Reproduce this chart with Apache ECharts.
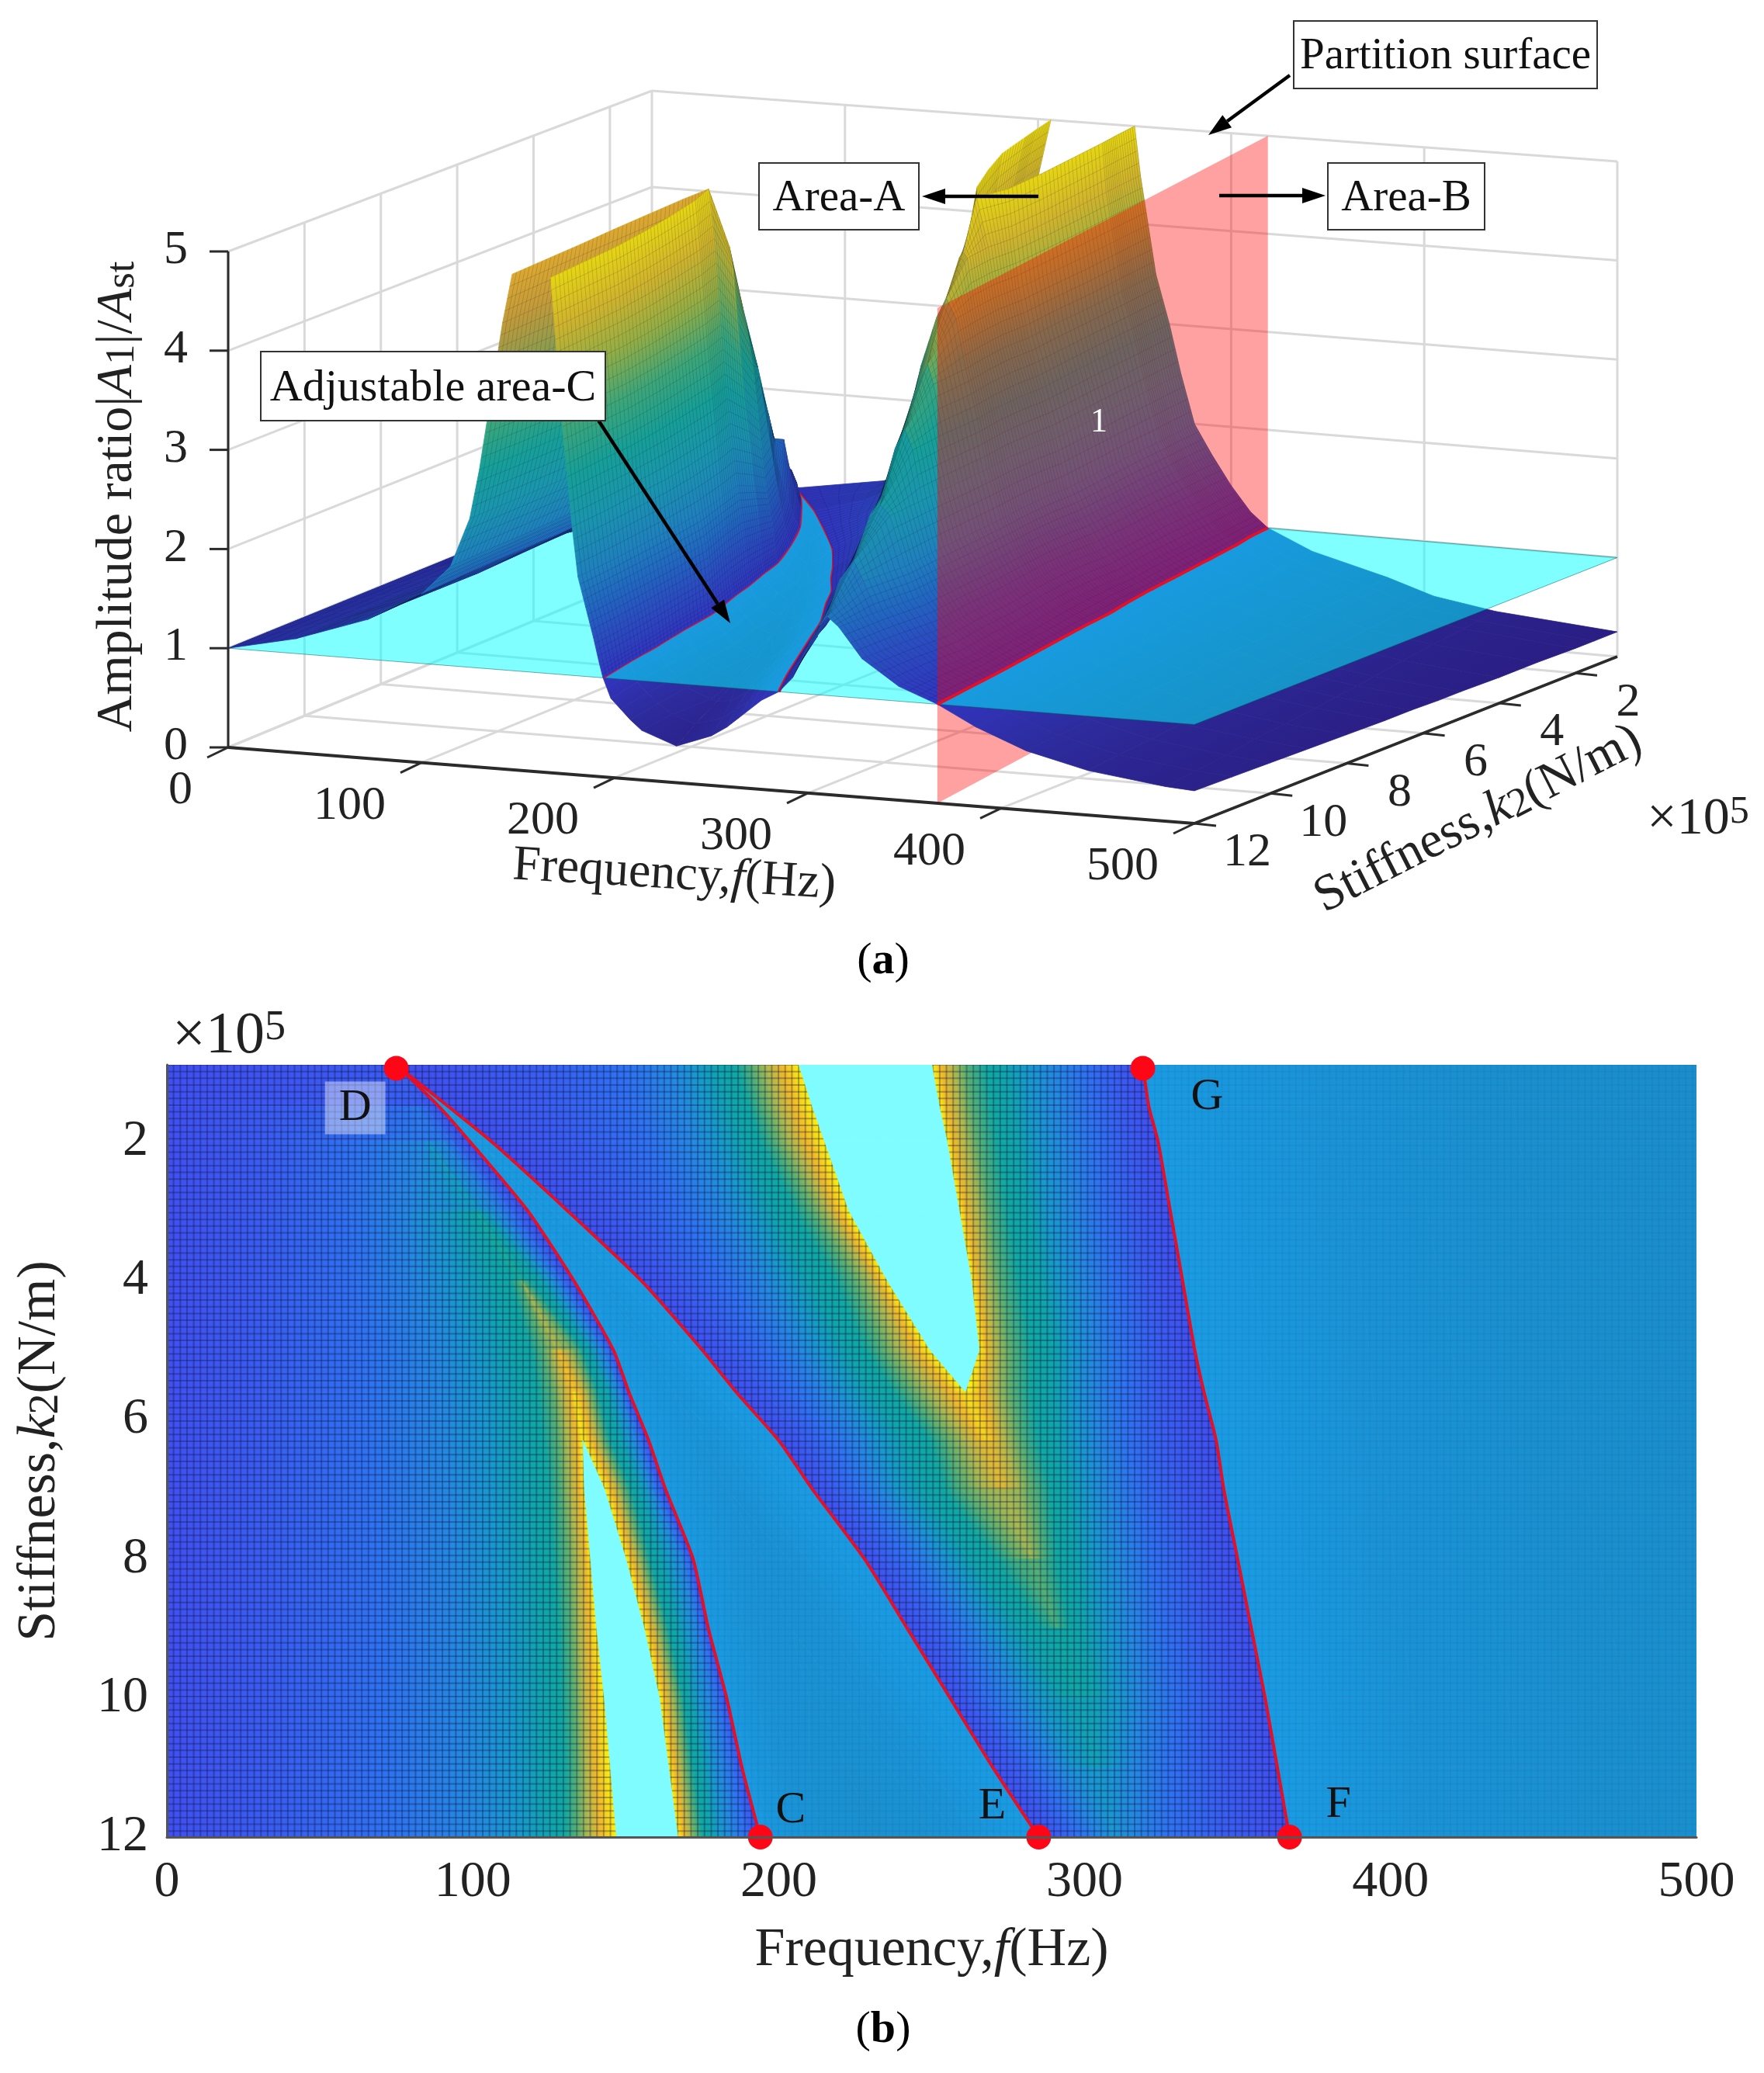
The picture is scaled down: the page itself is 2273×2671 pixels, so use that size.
<!DOCTYPE html>
<html>
<head>
<meta charset="utf-8">
<title>Amplitude ratio surface</title>
<script src="https://cdn.jsdelivr.net/npm/echarts@6/dist/echarts.min.js"></script>
<style>
  html, body { margin: 0; background: #fff; }
  #main { width: 2273px; height: 2671px; }
</style>
</head>
<body>
<div id="main"></div>
<script>
// stiffness rows (x10^5 N/m) the crossings below were read at
const k2Rows = [0.9, 1.5, 2, 3, 4, 5, 5.6, 6.3, 7, 8, 9, 10, 11, 12];

// peak height of the two ridges and bottom of the basin, per row
const ridgeOnePeak = [1.05, 1.3, 1.7, 2.6, 3.5, 4.4, 4.75, 5, 5, 5, 5, 5, 5, 5];
const ridgeOneSideScale = [1, 1, 1, .75, .72, .76, .88, 1, 1, 1, 1, 1, 1, 1];
const ridgeTwoPeak = [5, 5, 5, 5, 5, 5, 5, 4.55, 4.2, 3.7, 3.2, 2.6, 2.2, 1.8];
const basinMin = [1, .96, .93, .87, .82, .77, .73, .68, .64, .58, .53, .48, .42, .37];
const tailEnd = [.25, .25, .25, .26, .26, .27, .27, .28, .28, .29, .3, .31, .32, .33];

// frequency (Hz) where the surface crosses a level, one value per row
const riseLevels = [1.15, 1.4, 1.7, 2, 2.5, 3, 3.5, 4, 4.5, 5];
const fallLevels = [5, 4.5, 4, 3.5, 3, 2.5, 2, 1.7, 1.4, 1.15];
const ridgeOneRise = [
  [75, 40, 35, 32, 32, 32, 32, 32, 32, 33, 33, 34, 34, 35],
  [75, 80, 60, 60, 62, 65, 65, 65, 66, 68, 70, 70, 70, 72],
  [75, 80, 85, 78, 82, 88, 89, 90, 92, 94, 95, 96, 98, 100],
  [75, 80, 85, 88, 94, 100, 103, 105, 106, 108, 110, 112, 113, 115],
  [75, 80, 85, 99, 106, 112, 115, 117, 118, 120, 122, 123, 124, 125],
  [75, 80, 85, 101, 112, 119, 121, 123, 125, 126, 128, 129, 130, 130],
  [75, 80, 85, 101, 116, 123, 126, 128, 129, 131, 132, 133, 134, 134],
  [75, 80, 85, 101, 116, 126, 129, 131, 132, 134, 135, 136, 137, 138],
  [75, 80, 85, 101, 116, 128, 132, 134, 135, 137, 138, 139, 140, 142],
  [75, 80, 85, 101, 116, 128, 133, 136, 136.5, 138.5, 140.5, 143, 145, 147]
];
const ridgeOneFall = [
  [75, 80, 85, 101, 116, 128, 133, 136, 143, 150, 156, 161, 164, 167],
  [75, 80, 85, 101, 116, 128, 135, 139, 145.5, 152, 158, 163, 166, 169],
  [75, 80, 85, 101, 116, 131, 137, 141, 147.5, 154, 160, 165, 168, 171],
  [75, 80, 85, 101, 116, 134, 139, 143, 149.5, 156, 162, 167, 170, 173],
  [75, 80, 85, 101, 119, 136, 141, 145, 152, 158, 164, 169, 172, 175.5],
  [75, 80, 85, 102, 122, 138, 144, 148, 154.5, 161, 167, 171, 175, 178],
  [75, 80, 86, 105, 125, 140, 146, 151, 157, 165, 170, 174, 178, 181],
  [75, 81, 90, 108, 127, 142, 148, 153, 158.5, 168, 173, 177, 181, 185],
  [75, 84, 93, 112, 129, 144, 149, 155, 160, 170, 175, 180, 185, 189],
  [75, 87, 96, 115, 131, 145, 150, 156, 161.5, 171, 176, 182, 187, 192]
];
const ridgeTwoRise = [
  [120, 125, 132, 148, 168, 185, 196, 208, 218, 234, 250, 262, 277, 292],
  [150, 153, 157, 168, 183, 197, 206, 218, 226, 243, 258, 268, 285, 298],
  [165, 168, 172, 182, 195, 207, 216, 227, 233, 250, 265, 278, 291, 306],
  [172, 176, 180, 190, 202, 214, 222, 233, 238, 256, 271, 284, 297, 310],
  [180, 184, 188, 198, 210, 222, 230, 241, 247, 262, 279, 293, 304, 310],
  [186, 190, 194, 205, 218, 228, 237, 249, 254, 270, 286, 298, 304, 310],
  [191, 195, 199, 211, 225, 234, 243, 255, 260, 278, 291, 298, 304, 310],
  [196, 200, 204, 216, 230, 240, 250, 261, 268, 283, 291, 298, 304, 310],
  [201, 205, 209, 219, 233, 245, 256, 266, 273, 283, 291, 298, 304, 310],
  [206.6, 211, 215, 223, 235.5, 249.5, 261, 268, 273, 283, 291, 298, 304, 310]
];
const ridgeTwoFall = [
  [250, 252.5, 255, 259, 263, 265.5, 261, 268, 273, 283, 291, 298, 304, 310],
  [253, 255, 257, 261, 265, 268, 267, 270, 273, 283, 291, 298, 304, 310],
  [257, 259, 261, 265, 268, 271, 271, 274, 278, 283, 291, 298, 304, 310],
  [261, 263, 265, 269, 272, 276, 276, 279, 283, 286, 291, 298, 304, 310],
  [268, 270, 272, 275, 279, 283, 283, 285, 289, 291, 295, 298, 304, 310],
  [274, 276, 278, 282, 286, 290, 290, 291, 294, 297, 300, 303, 304, 310],
  [281, 283, 285, 288, 292, 296, 296, 298, 301, 304, 307, 311, 309, 310],
  [290, 291, 293, 296, 300, 303, 303, 305, 308, 312, 315, 318, 316, 316],
  [300, 302, 304, 306, 310, 313, 313, 314, 317, 322, 325, 330, 328, 328],
  [310, 312, 314, 317, 320, 325, 325, 327, 330, 336, 340, 345, 345, 347]
];

// the red curves, where the surface crosses 1
const curveCD = [75, 89, 99, 118, 133, 146, 151, 157.5, 163, 172, 177, 183, 188, 194];
const curveDE = [75, 92, 106, 131, 155, 175, 186, 200, 211, 228, 242, 256, 270, 285];
const curveGF = [319, 321, 324, 328, 332, 336, 339, 343, 345.5, 350, 354.5, 359, 363, 367];

// basin between CD and DE, levels below 1
const basinLevels = [.9, .8, .7, .6, .5, 0, .5, .6, .7, .8, .9];
const basinEdges = [
  [75, 90, 102, 120.7, 135.8, 148.3, 153, 159, 165, 174, 179, 185, 190, 196],
  [75, 90, 102, 123.4, 142, 155, 158, 164, 169, 178, 182, 187, 192, 198],
  [75, 90, 102, 123.4, 142, 158, 165.6, 172, 175, 183, 187, 193, 197, 203],
  [75, 90, 102, 123.4, 142, 158, 165.6, 175, 183, 192, 194, 198, 203, 208],
  [75, 90, 102, 123.4, 142, 158, 165.6, 175, 183, 195, 204, 210, 210, 214],
  [75, 90, 102, 123.4, 142, 158, 165.6, 175, 183, 195, 204, 213.5, 222, 232],
  [75, 90, 102, 123.4, 142, 158, 165.6, 175, 183, 195, 204, 221, 236, 250],
  [75, 90, 102, 123.4, 142, 158, 165.6, 175, 183, 203, 216, 229, 243, 258],
  [75, 90, 102, 123.4, 142, 158, 165.6, 181, 192, 209, 222, 236, 250, 264],
  [75, 90, 102, 123.4, 142, 162, 173.6, 187, 198, 215, 228, 242, 255, 270],
  [75, 90, 102, 126, 149.2, 168, 179, 193, 204, 221, 234, 248, 262, 276]
];
// falling tail to the right of GF
const tailLevels = [.8, .6, .45, .35];
const tailEdges = [
  [342, 344, 347, 351, 355, 359, 362, 365, 368, 372, 376, 380, 383, 387],
  [381, 383, 384, 387, 390, 393, 394, 396, 399, 401, 404, 407, 410, 413],
  [405, 407, 409, 412, 416, 420, 422, 425, 427, 431, 434, 438, 441, 445],
  [437, 440, 442, 446, 450, 455, 458, 461, 464, 468, 472, 477, 481, 485]
];

const freqTicks = [0, 100, 200, 300, 400, 500];
const stiffTicks = [2, 4, 6, 8, 10, 12];
const ampTicks = [0, 1, 2, 3, 4, 5];
const markerNames = ["D", "G", "C", "E", "F"];
const markerFreq = [75, 319, 194, 285, 367];
const markerStiff = [0.95, 0.95, 12, 12, 12];

// colours
const rampLevels = [.2, .6, 1, 1.4, 1.7, 2, 2.5, 3, 3.5, 4, 4.5, 5];
const rampSurface = ["#2a1c80", "#2d2c9e", "#3135bf", "#2a4fc0", "#2168c0", "#1f80bd", "#1a95ae", "#169f98", "#3ea678", "#93ad45", "#cfb32d", "#e6d514"];
const rampBack = ["#2a1c80", "#2d2c9e", "#2a2ea6", "#2645b0", "#2168c0", "#1f80bd", "#1a95ae", "#169f98", "#3ea678", "#8a9c50", "#c09a3a", "#dca830"];
const rampTop = ["#4050ee", "#4050ee", "#4050ee", "#2e72f0", "#2488e0", "#1898cc", "#10a4ac", "#10a8a0", "#58b070", "#b0b84c", "#f0b828", "#fbf010"];
const rampUnder = ["#1a8ecb", "#1a93d5", "#1a9be2"];
const serif = "Liberation Serif";

function hex(c) { return [1, 3, 5].map(i => parseInt(c.substr(i, 2), 16)); }
function ramp(levels, colors, v) {
  if (v <= levels[0]) return colors[0];
  for (let i = 1; i < levels.length; i++) {
    if (v <= levels[i]) {
      const t = (v - levels[i - 1]) / (levels[i] - levels[i - 1]);
      const a = hex(colors[i - 1]), b = hex(colors[i]);
      return "rgb(" + a.map((x, j) => Math.round(x + (b[j] - x) * t)).join(",") + ")";
    }
  }
  return colors[colors.length - 1];
}
const colorSurface = (v, back) => ramp(rampLevels, back ? rampBack : rampSurface, v);
const colorTop = (v, under) => under ? ramp([.25, .6, 1], rampUnder, v) : ramp(rampLevels, rampTop, v);

// edges left to right across the surface
const edges = [];
function addEdge(freq, value, height) { edges.push({ freq, value, height: height || value }); }
const ridgeOneHeight = lv => r => 1 + (Math.min(lv, ridgeOnePeak[r]) - 1) * ridgeOneSideScale[r];
addEdge(k2Rows.map(() => 0), () => 1);
ridgeOneRise.forEach((f, i) => addEdge(f, r => Math.min(riseLevels[i], ridgeOnePeak[r]), ridgeOneHeight(riseLevels[i])));
const holeOne = edges.length - 1;
ridgeOneFall.forEach((f, i) => addEdge(f, r => Math.min(fallLevels[i], ridgeOnePeak[r]), ridgeOneHeight(fallLevels[i])));
addEdge(curveCD, () => 1);
basinEdges.forEach((f, i) => addEdge(f, r => Math.max(basinLevels[i], basinMin[r])));
addEdge(curveDE, () => 1);
ridgeTwoRise.forEach((f, i) => addEdge(f, r => Math.min(riseLevels[i], ridgeTwoPeak[r])));
const holeTwo = edges.length - 1;
ridgeTwoFall.forEach((f, i) => addEdge(f, r => Math.min(fallLevels[i], ridgeTwoPeak[r])));
const cutGF = edges.length;
addEdge(curveGF, () => 1);
tailEdges.forEach((f, i) => addEdge(f, () => tailLevels[i]));
addEdge(k2Rows.map(() => 500), r => tailEnd[r]);

// 3d view of panel (a): floor corners on the page and height scale
const floorA = [294, 963], floorB = [1539, 1061], floorC = [2084, 846], floorD = [840, 737];
function bilinear(a, b, c, d, s, t) { return (1 - s) * (1 - t) * d + s * (1 - t) * c + (1 - s) * t * a + s * t * b; }
function floorY(f, k) { return bilinear(floorA[1], floorB[1], floorC[1], floorD[1], f / 500, (k - .9) / 11.1); }
function project(f, k, z) {
  const s = f / 500, t = (k - .9) / 11.1;
  return [
    bilinear(floorA[0], floorB[0], floorC[0], floorD[0], s, t),
    floorY(f, k) - z * bilinear(127.8, 127.5, 127.6, 124, s, t)
  ];
}

function gradientFill(p00, p01, p10, p11, c0, c1) {
  const ex = (p01[0] - p00[0]) + (p11[0] - p10[0]), ey = (p01[1] - p00[1]) + (p11[1] - p10[1]);
  const len = Math.hypot(ex, ey) || 1;
  const nx = -ey / len, ny = ex / len;
  const m0 = [(p00[0] + p01[0]) / 2, (p00[1] + p01[1]) / 2];
  const m1 = [(p10[0] + p11[0]) / 2, (p10[1] + p11[1]) / 2];
  const d = (m1[0] - m0[0]) * nx + (m1[1] - m0[1]) * ny;
  if (Math.abs(d) < 0.5) return c0;
  return new echarts.graphic.LinearGradient(m0[0], m0[1], m0[0] + nx * d, m0[1] + ny * d, [
    { offset: 0, color: c0 }, { offset: 1, color: c1 }
  ], true);
}
function mix(a, b, t) { return [a[0] + (b[0] - a[0]) * t, a[1] + (b[1] - a[1]) * t]; }

// quads of the surface, each is edge i / row r
const quads = [];
for (let i = 0; i < edges.length - 1; i++) {
  for (let r = 0; r < k2Rows.length - 1; r++) {
    const L = edges[i], R = edges[i + 1];
    if (Math.abs(L.freq[r] - R.freq[r]) + Math.abs(L.freq[r + 1] - R.freq[r + 1]) < 0.01) continue;
    const vs = [L.value(r), L.value(r + 1), R.value(r), R.value(r + 1)];
    const zs = [L.height(r), L.height(r + 1), R.height(r), R.height(r + 1)];
    quads.push({
      i, r, vs, zs,
      hole: i === holeOne || i === holeTwo,
      under: Math.max.apply(null, vs) <= 1,
      back: i < holeOne,
      depth: floorY((L.freq[r] + R.freq[r + 1]) / 2, (k2Rows[r] + k2Rows[r + 1]) / 2)
    });
  }
}
const quadPts = (q, vals) => {
  const L = edges[q.i].freq, R = edges[q.i + 1].freq, r = q.r;
  return [[L[r], k2Rows[r], vals[0]], [L[r + 1], k2Rows[r + 1], vals[1]], [R[r], k2Rows[r], vals[2]], [R[r + 1], k2Rows[r + 1], vals[3]]];
};

// scene of panel (a), painted back to front
const scene = [];
const ribStroke = "rgba(10,10,30,0.15)";
function toPage(api, p) { return api.coord(p); }
function surfaceQuad(q, ribs) {
  return api => {
    const [a, b, c, d] = quadPts(q, q.zs).map(p => toPage(api, project(p[0], p[1], p[2])));
    const fill = gradientFill(a, b, c, d, colorSurface((q.zs[0] + q.zs[1]) / 2, q.back), colorSurface((q.zs[2] + q.zs[3]) / 2, q.back));
    const children = [{ type: "polygon", shape: { points: [a, b, d, c] }, style: { fill, stroke: fill, lineWidth: 0.8 } }];
    if (ribs) {
      [0, .25, .5, .75].forEach(t => children.push({
        type: "polyline", shape: { points: [mix(a, c, t), mix(b, d, t)] },
        style: { stroke: ribStroke, lineWidth: 1, fill: null }
      }));
      [0, .125, .25, .375, .5, .625, .75, .875].forEach(t => children.push({
        type: "polyline", shape: { points: [mix(a, b, t), mix(c, d, t)] },
        style: { stroke: ribStroke, lineWidth: 1, fill: null }
      }));
    }
    return { type: "group", children };
  };
}
function wallLine(p0, p1) {
  scene.push(api => {
    const a = toPage(api, project.apply(null, p0)), b = toPage(api, project.apply(null, p1));
    return { type: "line", shape: { x1: a[0], y1: a[1], x2: b[0], y2: b[1] }, style: { stroke: "#d9d9d9", lineWidth: 3 } };
  });
}
function poly3d(points, style) {
  scene.push(api => ({ type: "polygon", shape: { points: points.map(p => toPage(api, project.apply(null, p))) }, style }));
}
function curve3d(freq, style) {
  scene.push(api => ({ type: "polyline", shape: { points: freq.map((f, r) => toPage(api, project(f, k2Rows[r], 1))), smooth: 0.25 }, style: Object.assign({ fill: null }, style) }));
}

// walls and floor
ampTicks.forEach(z => {
  wallLine([0, 12, z], [0, .9, z]);
  wallLine([0, .9, z], [500, .9, z]);
});
freqTicks.forEach(f => {
  wallLine([f, .9, 0], [f, .9, 5]);
  wallLine([f, .9, 0], [f, 12, 0]);
});
stiffTicks.forEach(k => {
  wallLine([0, k, 0], [0, k, 5]);
  wallLine([0, k, 0], [500, k, 0]);
});

// below the cyan plane
const byDepth = (a, b) => a.depth - b.depth;
quads.filter(q => q.under && q.i < cutGF).sort(byDepth).forEach(q => scene.push(surfaceQuad(q, false)));
const redFill = "rgba(255,0,0,0.37)";
poly3d([[curveGF[0], .9, 0], [curveGF[13], 12, 0], [curveGF[13], 12, 1], [curveGF[0], .9, 1]], { fill: redFill });
quads.filter(q => q.under && q.i >= cutGF).sort(byDepth).forEach(q => scene.push(surfaceQuad(q, false)));
poly3d([[0, .9, 1], [500, .9, 1], [500, 12, 1], [0, 12, 1]], { fill: "rgba(0,255,255,0.5)", stroke: "rgba(0,90,90,0.5)", lineWidth: 1 });
curve3d(curveCD, { stroke: "#e3102a", lineWidth: 3 });
curve3d(curveDE, { stroke: "#e3102a", lineWidth: 4 });
// above the plane
quads.filter(q => !q.under && !q.hole).sort(byDepth).forEach(q => scene.push(surfaceQuad(q, true)));
poly3d([[curveGF[0], .9, 1], [curveGF[13], 12, 1], [curveGF[13], 12, 5], [curveGF[0], .9, 5]], { fill: redFill });
curve3d(curveGF, { stroke: "#e3102a", lineWidth: 4 });

// axis lines and ticks of panel (a)
function axisStroke(p, dx, dy, w) {
  scene.push(api => {
    const a = toPage(api, p), b = toPage(api, [p[0] + dx, p[1] + dy]);
    return { type: "line", shape: { x1: a[0], y1: a[1], x2: b[0], y2: b[1] }, style: { stroke: "#2b2b2b", lineWidth: w } };
  });
}
function axisLine3d(p0, p1, w) {
  const a = project.apply(null, p0), b = project.apply(null, p1);
  axisStroke(a, b[0] - a[0], b[1] - a[1], w);
}
axisLine3d([0, 12, 0], [0, 12, 5], 3);
axisLine3d([0, 12, 0], [500, 12, 0], 4);
axisLine3d([500, 12, 0], [500, .9, 0], 3.5);
ampTicks.forEach(z => axisStroke(project(0, 12, z), -24, 0, 3));
freqTicks.forEach(f => axisStroke(project(f, 12, 0), -27, 13, 3));
stiffTicks.forEach(k => axisStroke(project(500, k, 0), 28, 3, 3));

function label3d(text, x, y, align) {
  scene.push(api => {
    const p = toPage(api, [x, y]);
    return { type: "text", x: p[0], y: p[1], style: { text: String(text), fontFamily: serif, fontSize: 62, fill: "#222", align, verticalAlign: "middle" } };
  });
}
ampTicks.forEach(z => { const p = project(0, 12, z); label3d(z, p[0] - 52, p[1] - 1, "right"); });
freqTicks.forEach(f => { const p = project(f, 12, 0); label3d(f, p[0] - 46, p[1] + 56, "right"); });
stiffTicks.forEach(k => { const p = project(500, k, 0); label3d(k, p[0] + 68, p[1] + 38, "center"); });

const titleRich = size => ({
  i: { fontFamily: serif, fontSize: size, fontStyle: "italic", fill: "#222" },
  s: { fontFamily: serif, fontSize: size * .8, fill: "#222", verticalAlign: "bottom" }
});
function title3d(text, x, y, rotation, size) {
  scene.push(api => {
    const p = toPage(api, [x, y]);
    return { type: "text", x: p[0], y: p[1], rotation, style: { text, rich: titleRich(size), fontFamily: serif, fontSize: size, fill: "#222", align: "center", verticalAlign: "middle" } };
  });
}
title3d("Amplitude ratio|{i|A}{s|1}|/{i|A}{s|st}", 152, 640, Math.PI / 2, 66);
title3d("Frequency,{i|f}(Hz)", 869, 1128, -0.06, 64);
title3d("Stiffness,{i|k}{s|2}(N/m)", 1905, 1056, 0.47, 66);

// panel (b)
const bRegular = quads.filter(q => !q.under && !q.hole);
const bUnder = quads.filter(q => q.under && !q.hole);
const bHoles = quads.filter(q => q.hole);
function flatQuad(q, api) {
  const [a, b, c, d] = quadPts(q, q.vs).map(p => api.coord([p[0], p[1]]));
  const fill = q.hole ? "#7ffcff" : gradientFill(a, b, c, d, colorTop((q.vs[0] + q.vs[1]) / 2, q.under), colorTop((q.vs[2] + q.vs[3]) / 2, q.under));
  return { type: "polygon", shape: { points: [a, b, d, c] }, style: { fill, stroke: fill, lineWidth: 0.8 } };
}
function meshGroup(api, stroke) {
  const children = [];
  const lt = api.coord([0, .9]), rb = api.coord([500, 12]);
  for (let x = lt[0]; x <= rb[0]; x += 8.66) children.push({ type: "line", shape: { x1: x, y1: lt[1], x2: x, y2: rb[1] }, style: { stroke, lineWidth: 2 } });
  for (let y = lt[1]; y <= rb[1]; y += 8.66) children.push({ type: "line", shape: { x1: lt[0], y1: y, x2: rb[0], y2: y }, style: { stroke, lineWidth: 2 } });
  return { type: "group", children };
}
const redPath = freq => freq.map((f, r) => [f, k2Rows[r]]);
const markerLabelOffset = { D: [-53, 51], G: [83, 37], C: [39, -34], E: [-60, -39], F: [63, -41] };

function arrow(x0, y0, x1, y1) {
  const a = Math.atan2(y1 - y0, x1 - x0), L = 30, W = 10;
  const bx = x1 - Math.cos(a) * L, by = y1 - Math.sin(a) * L;
  return [
    { type: "line", z: 60, shape: { x1: x0, y1: y0, x2: bx, y2: by }, style: { stroke: "#000", lineWidth: 4.5 } },
    { type: "polygon", z: 60, shape: { points: [[x1, y1], [bx - Math.sin(a) * W, by + Math.cos(a) * W], [bx + Math.sin(a) * W, by - Math.cos(a) * W]] }, style: { fill: "#000" } }
  ];
}
function box(text, x0, y0, x1, y1, size) {
  return [
    { type: "rect", z: 61, shape: { x: x0, y: y0, width: x1 - x0, height: y1 - y0 }, style: { fill: "#fff", stroke: "#333", lineWidth: 2 } },
    { type: "text", z: 62, x: (x0 + x1) / 2, y: (y0 + y1) / 2 + 3, style: { text, fontFamily: serif, fontSize: size, fill: "#111", align: "center", verticalAlign: "middle" } }
  ];
}
const pageText = (text, x, y, extra) => ({ type: "text", z: 62, x, y, style: Object.assign({ text, fontFamily: serif, fontSize: 58, fill: "#222", align: "center", verticalAlign: "middle" }, extra) });
const flatSeries = (name, list, z) => ({
  name, type: "custom", coordinateSystem: "cartesian2d", xAxisIndex: 1, yAxisIndex: 1,
  silent: true, clip: true, z,
  data: list.map((_, i) => [i, 0]),
  renderItem: (params, api) => flatQuad(list[api.value(0)], api)
});
const meshSeries = (name, stroke, z) => ({
  name, type: "custom", coordinateSystem: "cartesian2d", xAxisIndex: 1, yAxisIndex: 1,
  silent: true, clip: true, z, data: [[0, 0]],
  renderItem: (params, api) => meshGroup(api, stroke)
});

const chart = echarts.init(document.getElementById("main"), null, { renderer: "canvas" });
chart.setOption({
  animation: false,
  backgroundColor: "#fff",
  grid: [
    { left: 0, right: 0, top: 0, bottom: 0, show: false },
    { left: 215, right: 87, top: 1372, bottom: 304, show: false }
  ],
  xAxis: [
    { gridIndex: 0, type: "value", min: 0, max: 2273, show: false },
    {
      gridIndex: 1, type: "value", min: 0, max: 500, interval: 100,
      axisLine: { show: true, onZero: false, lineStyle: { color: "#555", width: 3 } },
      axisTick: { show: false }, splitLine: { show: false },
      axisLabel: { fontFamily: serif, fontSize: 66, color: "#222", margin: 26, hideOverlap: false },
      name: "Frequency,{i|f}(Hz)", nameLocation: "middle", nameGap: 112,
      nameTextStyle: { fontFamily: serif, fontSize: 70, color: "#222", rich: { i: { fontFamily: serif, fontSize: 70, fontStyle: "italic", color: "#222" } } },
      z: 12
    }
  ],
  yAxis: [
    { gridIndex: 0, type: "value", min: 0, max: 2671, inverse: true, show: false },
    {
      gridIndex: 1, type: "value", min: 0.9, max: 12, inverse: true,
      axisLine: { show: true, onZero: false, lineStyle: { color: "#555", width: 3 } },
      axisTick: { show: false }, splitLine: { show: false },
      axisLabel: { customValues: stiffTicks, fontFamily: serif, fontSize: 66, color: "#222", margin: 24 },
      name: "Stiffness,{i|k}{s|2}(N/m)", nameLocation: "middle", nameGap: 128, nameRotate: 90,
      nameTextStyle: {
        fontFamily: serif, fontSize: 70, color: "#222",
        rich: { i: { fontFamily: serif, fontSize: 70, fontStyle: "italic", color: "#222" }, s: { fontFamily: serif, fontSize: 54, color: "#222", verticalAlign: "bottom" } }
      },
      z: 12
    }
  ],
  series: [
    {
      name: "surface view", type: "custom", coordinateSystem: "cartesian2d", xAxisIndex: 0, yAxisIndex: 0,
      silent: true, clip: false, z: 2,
      data: scene.map((_, i) => [i, 0]),
      renderItem: (params, api) => scene[api.value(0)](api)
    },
    flatSeries("top view", bRegular, 3),
    meshSeries("mesh", "rgba(15,15,60,0.28)", 4),
    flatSeries("top view under plane", bUnder, 5),
    meshSeries("plane mesh", "rgba(10,40,90,0.05)", 6),
    flatSeries("clipped peaks", bHoles, 7),
    ...[curveCD, curveDE, curveGF].map(c => ({
      type: "line", xAxisIndex: 1, yAxisIndex: 1, data: redPath(c), smooth: 0.2, showSymbol: false, silent: true, z: 8,
      lineStyle: { color: "#e3102a", width: 4 }
    })),
    {
      type: "scatter", xAxisIndex: 1, yAxisIndex: 1, symbolSize: 32, clip: false, silent: true, z: 9,
      itemStyle: { color: "#ff0616", opacity: 1 },
      data: markerNames.map((name, i) => ({
        name, value: [markerFreq[i], markerStiff[i]],
        label: {
          show: true, formatter: name, position: "inside", offset: markerLabelOffset[name],
          fontFamily: serif, fontSize: 58, color: "#111",
          backgroundColor: name === "D" ? "rgba(255,255,255,0.42)" : "transparent",
          padding: name === "D" ? [8, 18, 2, 18] : 0
        }
      }))
    }
  ],
  graphic: [
    ...arrow(1662, 97, 1557, 174),
    ...arrow(1338, 253, 1188, 253),
    ...arrow(1571, 252, 1708, 252),
    ...arrow(770, 540, 941, 803),
    ...box("Partition surface", 1667, 27, 2058, 114, 57),
    ...box("Area-A", 978, 210, 1184, 296, 57),
    ...box("Area-B", 1711, 210, 1913, 296, 57),
    ...box("Adjustable area-C", 336, 453, 780, 542, 58),
    pageText("1", 1416, 544, { fill: "#fff", fontSize: 44 }),
    pageText("×10{s|5}", 2188, 1056, { fontSize: 68, rich: { s: { fontFamily: serif, fontSize: 50, verticalAlign: "top", fill: "#222" } } }),
    pageText("×10{s|5}", 295, 1336, { fontSize: 76, rich: { s: { fontFamily: serif, fontSize: 54, verticalAlign: "top", fill: "#222" } } }),
    pageText("({b|a})", 1138, 1239, { fontSize: 58, fill: "#000", rich: { b: { fontFamily: serif, fontSize: 58, fontWeight: "bold", fill: "#000" } } }),
    pageText("({b|b})", 1138, 2616, { fontSize: 58, fill: "#000", rich: { b: { fontFamily: serif, fontSize: 58, fontWeight: "bold", fill: "#000" } } })
  ]
});
</script>
</body>
</html>
